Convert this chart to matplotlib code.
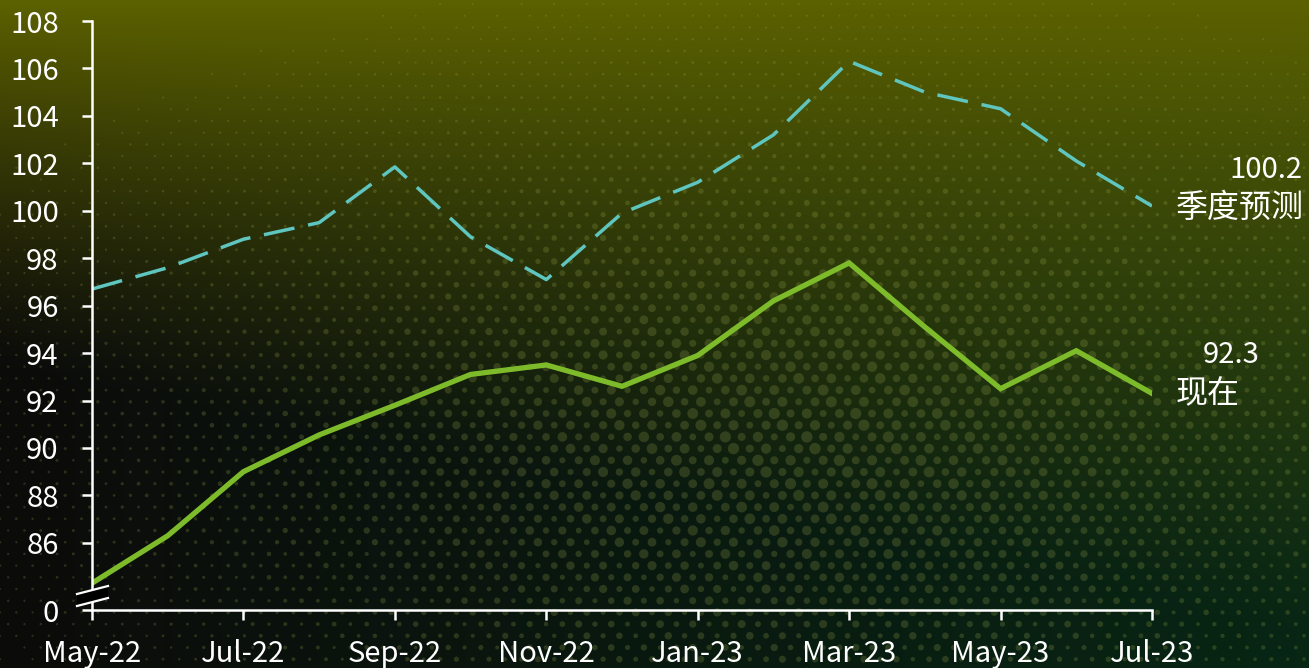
import numpy as np
import matplotlib
matplotlib.use("Agg")
import matplotlib.pyplot as plt
from matplotlib.patches import Polygon
from matplotlib.lines import Line2D

plt.rcParams['font.family'] = ['Noto Sans CJK SC', 'DejaVu Sans']

# data
months = ["May-22", "Jun-22", "Jul-22", "Aug-22", "Sep-22", "Oct-22", "Nov-22", "Dec-22",
          "Jan-23", "Feb-23", "Mar-23", "Apr-23", "May-23", "Jun-23", "Jul-23"]
current = [84.3, 86.3, 89.0, 90.55, 91.8, 93.1, 93.5, 92.6, 93.9, 96.2, 97.8, 95.1, 92.5, 94.1, 92.3]
forecast = [96.7, 97.6, 98.8, 99.5, 101.85, 98.9, 97.1, 99.9, 101.2, 103.2, 106.3, 105.0, 104.3, 102.1, 100.2]
ytick_vals = [86, 88, 90, 92, 94, 96, 98, 100, 102, 104, 106, 108]
label_current = "现在"
label_forecast = "季度预测"

W, H = 1309, 668
fig = plt.figure(figsize=(W / 100, H / 100), dpi=100)

# background gradient
bg = fig.add_axes([0, 0, 1, 1], zorder=-10)
bg.axis("off")
yy, xx = np.mgrid[0:1:H * 1j, 0:1:W * 1j]
olive = np.array([0.36, 0.38, 0.0])
dark_l = np.array([0.045, 0.045, 0.04])
dark_r = np.array([0.03, 0.15, 0.08])
bottom = dark_l[None, None, :] * (1 - xx[..., None]) + dark_r[None, None, :] * xx[..., None]
w = np.clip(1 - yy / (0.55 + 0.40 * xx), 0, 1) ** 1.2
img = olive[None, None, :] * w[..., None] + bottom * (1 - w[..., None])
bg.imshow(img, extent=[0, W, H, 0], aspect="auto")

# halftone dot texture (decoration only)
dx, dy = 16.3, 11.7
pts_x, pts_y, sizes = [], [], []
for j in range(int(H / dy) + 1):
    for i in range(int(W / dx) + 2):
        px = i * dx + (dx / 2 if j % 2 else 0)
        py = j * dy + 4
        d2 = ((px - 800) / 540) ** 2 + ((py - 450) / 270) ** 2
        s = np.exp(-d2)
        s *= 0.55 + 0.45 * ((i * 7 + j * 13) % 5) / 4
        if s > 0.04:
            pts_x.append(px)
            pts_y.append(py)
            sizes.append((1.2 + 7 * s) ** 2)
bg.scatter(pts_x, pts_y, s=sizes, color=(0.6, 0.65, 0.3), alpha=0.24, linewidths=0)
bg.set_xlim(0, W)
bg.set_ylim(H, 0)

# main axes
x0, x1, y0, y1 = 92, 1152, 21, 610
ax = fig.add_axes([x0 / W, 1 - y1 / H, (x1 - x0) / W, (y1 - y0) / H])
ax.patch.set_alpha(0)
x = np.arange(len(months))
ymin = 83.17
ax.plot(x, forecast, color="#5ec5bf", lw=2.5, dashes=(9, 4), solid_capstyle="butt")
ax.plot(x, current, color="#7dbb2a", lw=3.8, solid_joinstyle="miter")
ax.set_xlim(0, len(months) - 1)
ax.set_ylim(ymin, 108)

for s in ["top", "right"]:
    ax.spines[s].set_visible(False)
for s in ["left", "bottom"]:
    ax.spines[s].set_color("white")
    ax.spines[s].set_linewidth(1.8)

ax.set_xticks(x[::2])
ax.set_xticklabels(months[::2])
ax.set_yticks([ymin] + ytick_vals)
ax.set_yticklabels(["0"] + [str(v) for v in ytick_vals])
ax.tick_params(axis="x", colors="white", labelsize=21, length=7, width=1.8, pad=14)
ax.tick_params(axis="y", colors="white", labelsize=21, length=7, width=1.8, pad=17)

# axis break marks
def fp(px, py):
    return (px / W, 1 - py / H)

brk = [fp(77, 594), fp(108, 586), fp(108, 598), fp(77, 606)]
fig.add_artist(Polygon(brk, closed=True, transform=fig.transFigure, facecolor="black",
                       edgecolor="none", zorder=5))
for a, b in [(brk[0], brk[1]), (brk[3], brk[2])]:
    fig.add_artist(Line2D([a[0], b[0]], [a[1], b[1]], transform=fig.transFigure,
                          color="white", lw=1.6, zorder=6))

# end labels
fig.text(1303 / W, 1 - 170 / H, f"{forecast[-1]:.1f}", color="white", fontsize=21,
         ha="right", va="center")
fig.text(1176 / W, 1 - 208 / H, label_forecast, color="white", fontsize=23,
         ha="left", va="center")
fig.text(1231 / W, 1 - 355 / H, f"{current[-1]:.1f}", color="white", fontsize=21,
         ha="center", va="center")
fig.text(1176 / W, 1 - 394 / H, label_current, color="white", fontsize=23,
         ha="left", va="center")

fig.savefig("out.png", dpi=100)
